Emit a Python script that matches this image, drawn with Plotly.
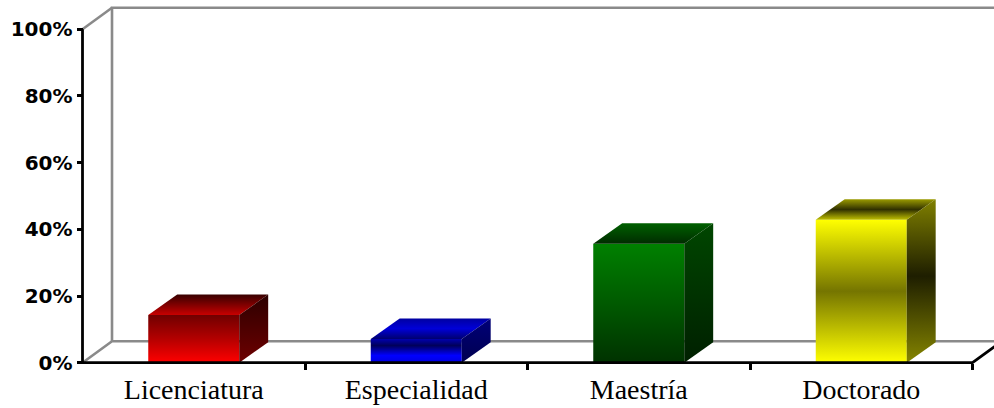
import plotly.graph_objects as go

# ---- data -------------------------------------------------------------
categories = ["Licenciatura", "Especialidad", "Maestría", "Doctorado"]
values = [14.29, 7.14, 35.71, 42.86]          # percent of respondents
y_ticks = [0, 20, 40, 60, 80, 100]
y_tick_labels = [f"{t}%" for t in y_ticks]

# ---- styling ----------------------------------------------------------
# vertical gradients, listed bottom -> top, for front / top / side faces
front_scales = [
    [[0, "#FF0000"], [0.5, "#B40000"], [1, "#700000"]],
    [[0, "#0000E0"], [0.3, "#0000FF"], [0.72, "#00005A"], [1, "#0000B0"]],
    [[0, "#003200"], [0.5, "#005A00"], [1, "#008000"]],
    [[0, "#FFFF00"], [0.5, "#757500"], [1, "#FFFF00"]],
]
top_scales = [
    [[0, "#C80000"], [1, "#380000"]],
    [[0, "#000070"], [0.5, "#0000D8"], [1, "#0000A0"]],
    [[0, "#002C00"], [1, "#006000"]],
    [[0, "#C0C000"], [0.5, "#303000"], [1, "#9A9A00"]],
]
side_scales = [
    [[0, "#6E0000"], [1, "#2C0000"]],
    [[0, "#000050"], [1, "#000078"]],
    [[0, "#002000"], [1, "#004600"]],
    [[0, "#858500"], [0.53, "#1E1E00"], [1, "#808000"]],
]

BAR_W = 0.409          # bar width in category units
BAR_DX, BAR_DY = 0.130, 6.15     # bar depth (x in categories, y in percent)
WALL_DX, WALL_DY = 0.1326, 6.45  # depth of the floor / back wall
X_RANGE = [-0.8708, 3.5966]
Y_RANGE = [-13.59, 108.79]
GRAY = "#8A8A8A"

fig = go.Figure()

# ---- back wall and floor outline (gray) ------------------------------
x0, x1 = -0.5, len(categories) - 0.5
gx = [x0, x0 + WALL_DX, x1 + WALL_DX, None,
      x0 + WALL_DX, x0 + WALL_DX, x1 + WALL_DX, None,
      x0, x0 + WALL_DX]
gy = [0, WALL_DY, WALL_DY, None,
      WALL_DY, 100 + WALL_DY, 100 + WALL_DY, None,
      100, 100 + WALL_DY]
fig.add_trace(go.Scatter(x=gx, y=gy, mode="lines",
                         line=dict(color=GRAY, width=2.6),
                         hoverinfo="skip", showlegend=False))


def face(xs, ys, scale):
    fig.add_trace(go.Scatter(
        x=xs + [xs[0]], y=ys + [ys[0]], mode="lines", fill="toself",
        fillgradient=dict(type="vertical", colorscale=scale),
        line=dict(width=0), hoverinfo="skip", showlegend=False))


# ---- 3-D bars ---------------------------------------------------------
for i, v in enumerate(values):
    xl, xr = i - BAR_W / 2, i + BAR_W / 2
    # front
    face([xl, xr, xr, xl], [0, 0, v, v], front_scales[i])
    # top
    face([xl, xr, xr + BAR_DX, xl + BAR_DX],
         [v, v, v + BAR_DY, v + BAR_DY], top_scales[i])
    # right side
    face([xr, xr + BAR_DX, xr + BAR_DX, xr],
         [0, BAR_DY, v + BAR_DY, v], side_scales[i])

# ---- front axis lines (black) ----------------------------------------
fig.add_trace(go.Scatter(
    x=[x0, x0, None, x0, x1, x1 + WALL_DX],
    y=[100, 0, None, 0, 0, WALL_DY],
    mode="lines", line=dict(color="black", width=2.8),
    hoverinfo="skip", showlegend=False))

# invisible anchor trace for the labelled axes
fig.add_trace(go.Scatter(x=[0], y=[0], xaxis="x2", yaxis="y2",
                         mode="markers", marker=dict(opacity=0),
                         hoverinfo="skip", showlegend=False))

W, H = 994, 408
fig.update_layout(
    width=W, height=H,
    margin=dict(l=0, r=0, t=0, b=0),
    paper_bgcolor="white", plot_bgcolor="white",
    xaxis=dict(range=X_RANGE, visible=False, fixedrange=True),
    yaxis=dict(range=Y_RANGE, visible=False, fixedrange=True),
    xaxis2=dict(
        range=X_RANGE, overlaying="x", anchor="free",
        position=(0 - Y_RANGE[0]) / (Y_RANGE[1] - Y_RANGE[0]),
        tickmode="array", tickvals=list(range(len(categories))),
        ticktext=categories, ticks="",
        tickfont=dict(family="Liberation Serif", size=28, color="black"),
        ticklabelstandoff=7,
        minor=dict(tickmode="array",
                   tickvals=[k + 0.5 for k in range(len(categories))],
                   ticks="outside", ticklen=6, tickwidth=2.5,
                   tickcolor="black"),
        showline=False, showgrid=False, zeroline=False, fixedrange=True),
    yaxis2=dict(
        range=Y_RANGE, overlaying="y", anchor="free", side="left",
        position=(x0 - X_RANGE[0]) / (X_RANGE[1] - X_RANGE[0]),
        tickmode="array", tickvals=y_ticks, ticktext=y_tick_labels,
        ticks="outside", ticklen=6, tickwidth=2.5, tickcolor="black",
        tickfont=dict(family="DejaVu Sans", size=20, color="black",
                      weight="bold"),
        showline=False, showgrid=False, zeroline=False, fixedrange=True),
)

fig.write_html("out.html")
